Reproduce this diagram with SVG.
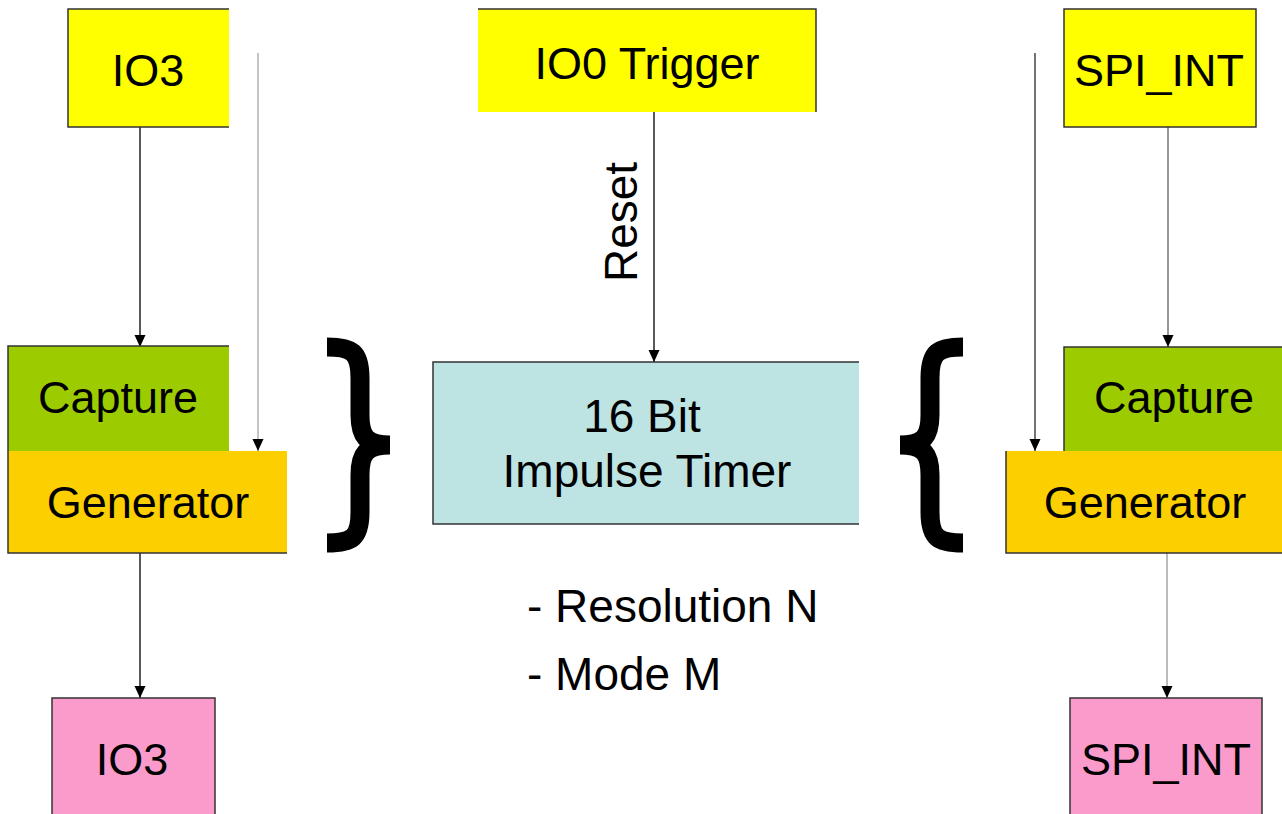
<svg xmlns="http://www.w3.org/2000/svg" width="1282" height="814" viewBox="0 0 1282 814">
<style>
.t{font-family:"Liberation Sans",Arial,sans-serif;font-size:45px;fill:#000}
.l{font-size:46px}
.m{text-anchor:middle}
.b{fill:none;stroke:#333;stroke-width:1.5}
.brace{fill:none;stroke:#000;stroke-width:19;stroke-linejoin:bevel}
</style>
<defs>
<marker id="ah" markerUnits="userSpaceOnUse" markerWidth="12" markerHeight="12" refX="12" refY="6" orient="auto">
<path d="M0,0.5 L12,6 L0,11.5 z" fill="#000"/>
</marker>
</defs>
<rect width="1282" height="814" fill="#fff"/>
<g id="connectors">
<line x1="140" y1="127" x2="140" y2="347" stroke="#222" stroke-width="1.5" marker-end="url(#ah)"/>
<line x1="258" y1="53" x2="258" y2="451" stroke="#c4c4c4" stroke-width="2" marker-end="url(#ah)"/>
<line x1="140" y1="553" x2="140" y2="698" stroke="#222" stroke-width="1.5" marker-end="url(#ah)"/>
<line x1="654" y1="112" x2="654" y2="362" stroke="#222" stroke-width="1.5" marker-end="url(#ah)"/>
<line x1="1168" y1="127" x2="1168" y2="347" stroke="#777" stroke-width="1.5" marker-end="url(#ah)"/>
<line x1="1035" y1="53" x2="1035" y2="451" stroke="#444" stroke-width="1.5" marker-end="url(#ah)"/>
<line x1="1167" y1="553" x2="1167" y2="698" stroke="#bbb" stroke-width="2" marker-end="url(#ah)"/>
</g>
<g id="io3-in">
<rect x="68" y="9" width="161" height="118" fill="#ffff00"/>
<path class="b" d="M229,9 H68 V127 H229"/>
<text class="t m" x="148" y="86">IO3</text>
</g>
<g id="io0-trigger">
<rect x="478" y="9" width="338" height="103" fill="#ffff00"/>
<path class="b" d="M478,9 H816 V112"/>
<text class="t m" x="647" y="79">IO0 Trigger</text>
</g>
<g id="spi-in">
<rect x="1064" y="9" width="192" height="118" fill="#ffff00"/>
<path class="b" d="M1064,9 H1256 V127 H1064 Z"/>
<text class="t m" x="1159" y="86">SPI_INT</text>
</g>
<g id="capture-left">
<rect x="8" y="346" width="221" height="105" fill="#9ccc00"/>
<path class="b" d="M229,346 H8 V451"/>
<text class="t m" x="118" y="413">Capture</text>
</g>
<g id="generator-left">
<rect x="8" y="451" width="279" height="102" fill="#fccf00"/>
<path class="b" d="M8,451 V553 H287"/>
<text class="t m" x="148" y="518">Generator</text>
</g>
<g id="timer">
<rect x="433" y="362" width="426" height="162" fill="#bde3e3"/>
<path class="b" d="M859,362 H433 V524 H859"/>
<text class="t l m" x="642" y="432">16 Bit</text>
<text class="t l m" x="647" y="487">Impulse Timer</text>
</g>
<g id="params">
<text class="t l" x="527" y="622">- Resolution N</text>
<text class="t l" x="527" y="690">- Mode M</text>
</g>
<g id="reset-label">
<text class="t l m" transform="translate(637,222) rotate(-90)">Reset</text>
</g>
<g id="capture-right">
<rect x="1064" y="347" width="218" height="104" fill="#9ccc00"/>
<path class="b" d="M1282,347 H1064 V451"/>
<text class="t m" x="1174" y="413">Capture</text>
</g>
<g id="generator-right">
<rect x="1006" y="451" width="276" height="102" fill="#fccf00"/>
<path class="b" d="M1006,451 V553 H1282"/>
<text class="t m" x="1145" y="518">Generator</text>
</g>
<g id="io3-out">
<rect x="52" y="698" width="163" height="116" fill="#fb9bcc"/>
<path class="b" d="M52,814 V698 H215 V814"/>
<text class="t m" x="132" y="775">IO3</text>
</g>
<g id="spi-out">
<rect x="1070" y="698" width="192" height="116" fill="#fb9bcc"/>
<path class="b" d="M1070,814 V698 H1262 V814"/>
<text class="t m" x="1166" y="775">SPI_INT</text>
</g>
<g id="brace-left">
<path class="brace" d="M327,347 C352,347 360,352 360,378 L360,415 C360,436 366,445 390,445 C366,445 360,454 360,475 L360,512 C360,538 352,543 327,543"/>
</g>
<g id="brace-right">
<path class="brace" transform="translate(1290,0) scale(-1,1)" d="M327,347 C352,347 360,352 360,378 L360,415 C360,436 366,445 390,445 C366,445 360,454 360,475 L360,512 C360,538 352,543 327,543"/>
</g>
</svg>
